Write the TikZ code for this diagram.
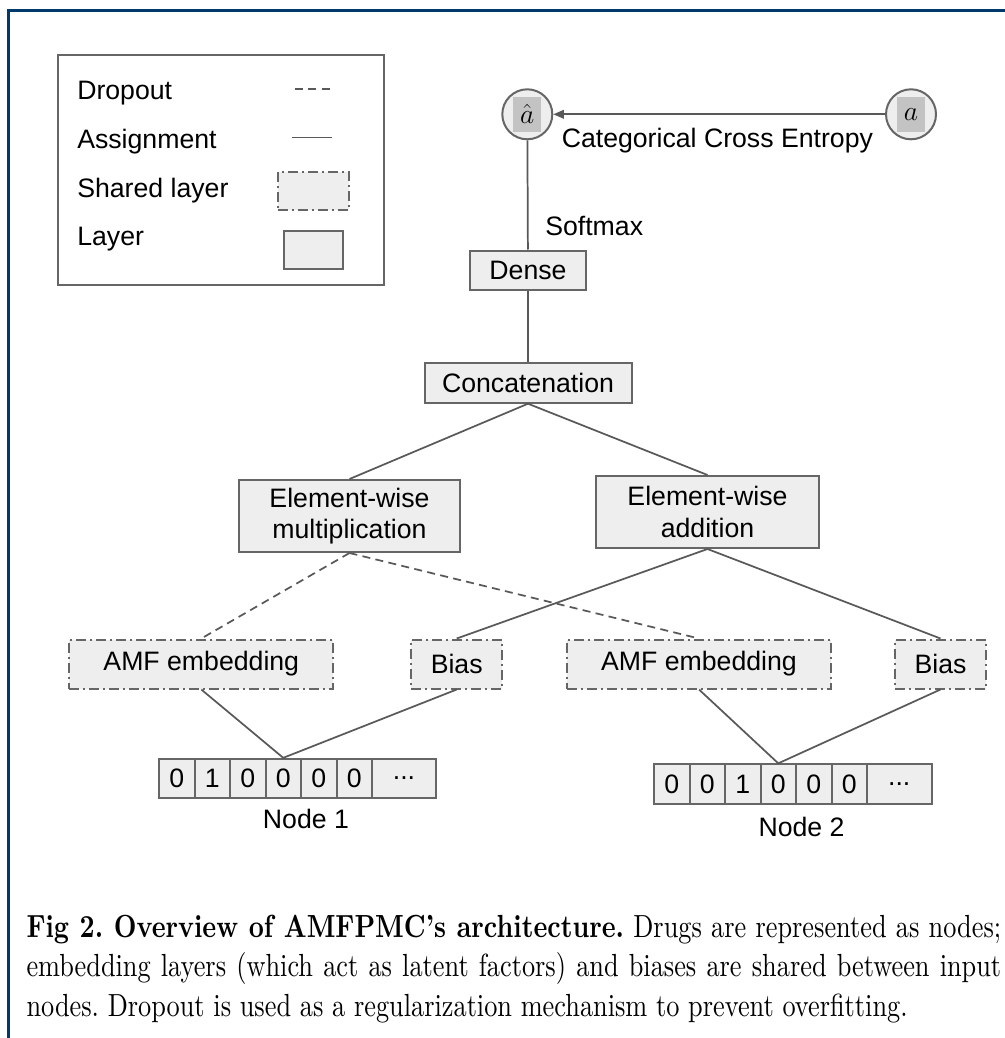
\documentclass[tikz,border=0pt]{standalone}
\usepackage{fontspec}
\usepackage{amsmath}
\usetikzlibrary{arrows.meta}
\newfontfamily\arialfont{Liberation Sans}

\definecolor{framecol}{RGB}{0,57,107}
\definecolor{boxfill}{RGB}{238,238,238}
\definecolor{boxline}{RGB}{102,102,102}
\definecolor{wirecol}{RGB}{89,89,89}
\definecolor{innergray}{RGB}{195,195,195}

\tikzset{
  layer/.style={draw=boxline, fill=boxfill, line width=1.5pt, inner sep=0pt, align=center, font=\arialfont\fontsize{20}{23.5}\selectfont},
  shared/.style={layer, dash pattern=on 7.5pt off 3pt on 1.5pt off 3pt},
  cell/.style={layer, minimum width=26.625pt, minimum height=29.5pt},
  wire/.style={draw=wirecol, line width=1.3pt},
  dropwire/.style={wire, dash pattern=on 6pt off 4pt},
  lbl/.style={font=\arialfont\fontsize{20}{24}\selectfont, inner sep=0pt},
  target/.style={circle, draw=boxline, fill=boxfill, line width=1.5pt, minimum size=37.5pt, inner sep=0pt, font=\fontsize{21}{25}\selectfont,
    path picture={\fill[innergray] ([shift={(-10.5pt,-13.1pt)}]path picture bounding box.center) rectangle ([shift={(10.5pt,13.1pt)}]path picture bounding box.center);}}
}

\begin{document}
\begin{tikzpicture}[x=0.75pt,y=0.75pt,yscale=-1,xscale=1]
    \useasboundingbox (0,0) rectangle (1005,1038);

    % Frame
    \draw[framecol, line width=2pt] (8.7,1038) -- (8.7,10.7) -- (1005,10.7);

    % Legend
    \draw[draw=boxline, line width=1.5pt] (58,55) rectangle (384,285);
    \node[lbl, anchor=base west] (ldropout) at (77,100) {Dropout};
    \node[lbl, anchor=base west] (lassign) at (77,148.5) {Assignment};
    \node[lbl, anchor=base west] (lshared) at (77,197) {Shared layer};
    \node[lbl, anchor=base west] (llayer) at (77,245.5) {Layer};
    \draw[dropwire] (295,89) -- (332,89);
    \draw[wire] (292,137.5) -- (332,137.5);
    \node[shared, minimum width=53.25pt, minimum height=28.5pt] (lsharedbox) at (313.3,191) {};
    \node[layer, minimum width=44.25pt, minimum height=28.5pt] (llayerbox) at (313.3,249.7) {};

    % Output and target
    \node[target] (ahat) at (527.3,114.3) {$\hat{a}$};
    \node[target] (a) at (911,114.3) {$a$};
    \node[lbl, anchor=base west] (cce) at (561.5,147.5) {Categorical Cross Entropy};
    \node[lbl, anchor=base west] (softmax) at (545,235) {Softmax};

    % Layers
    \node[layer, minimum width=87pt, minimum height=29.25pt] (dense) at (528,270) {Dense};
    \node[layer, minimum width=155.25pt, minimum height=30pt] (concat) at (528,382.7) {Concatenation};
    \node[layer, minimum width=165.75pt, minimum height=54pt] (mult) at (349.5,516) {Element-wise\\multiplication};
    \node[layer, minimum width=167.25pt, minimum height=54pt] (add) at (707.5,512) {Element-wise\\addition};

    % Shared layers
    \node[shared, minimum width=198pt, minimum height=36.75pt] (amfa) at (201.3,664) {AMF embedding};
    \node[shared, minimum width=68.25pt, minimum height=36.75pt] (biasa) at (456.7,664) {Bias};
    \node[shared, minimum width=198pt, minimum height=36.75pt] (amfb) at (699,664) {AMF embedding};
    \node[shared, minimum width=68.25pt, minimum height=36.75pt] (biasb) at (940.5,664) {Bias};

    % Input vector of node 1
    \node[cell] (va1) at (176.75,778.5) {0};
    \node[cell] (va2) at (212.25,778.5) {1};
    \node[cell] (va3) at (247.75,778.5) {0};
    \node[cell] (va4) at (283.25,778.5) {0};
    \node[cell] (va5) at (318.75,778.5) {0};
    \node[cell] (va6) at (354.25,778.5) {0};
    \node[cell, minimum width=48pt] (va7) at (404,778.5) {...};
    \node[lbl, anchor=base west] (nodea) at (262.7,828) {Node 1};

    % Input vector of node 2
    \node[cell] (vb1) at (671.75,784) {0};
    \node[cell] (vb2) at (707.25,784) {0};
    \node[cell] (vb3) at (742.75,784) {1};
    \node[cell] (vb4) at (778.25,784) {0};
    \node[cell] (vb5) at (813.75,784) {0};
    \node[cell] (vb6) at (849.25,784) {0};
    \node[cell, minimum width=48.375pt] (vb7) at (899.25,784) {...};
    \node[lbl, anchor=base west] (nodeb) at (758.3,836) {Node 2};

    % Connections
    \draw[wire, -{Triangle[length=8pt,width=6.5pt]}] (a) -- (ahat);
    \draw[wire] (ahat) -- (dense);
    \draw[wire] (dense) -- (concat);
    \draw[wire] (concat.south) -- (mult.north);
    \draw[wire] (concat.south) -- (add.north);
    \draw[dropwire] (mult.south) -- (amfa.north);
    \draw[dropwire] (mult.south) -- (amfb.north);
    \draw[wire] (add.south) -- (biasa.north);
    \draw[wire] (add.south) -- (biasb.north);
    \draw[wire] (amfa.south) -- (va4.north);
    \draw[wire] (biasa.south) -- (va4.north);
    \draw[wire] (amfb.south) -- (vb4.north);
    \draw[wire] (biasb.south) -- (vb4.north);

    % Caption
    \node[anchor=north west, inner sep=0pt, xscale=1.9725, yscale=2.4, text width=370.6pt, align=justify, font=\frenchspacing\fontsize{10}{12.4}\selectfont] (caption) at (26,914) {\textbf{Fig 2. Overview of AMFPMC's architecture.} Drugs are represented as nodes;\linebreak embedding layers (which act as latent factors) and biases are shared between input\linebreak nodes. Dropout is used as a regularization mechanism to prevent overfitting.};
\end{tikzpicture}
\end{document}
